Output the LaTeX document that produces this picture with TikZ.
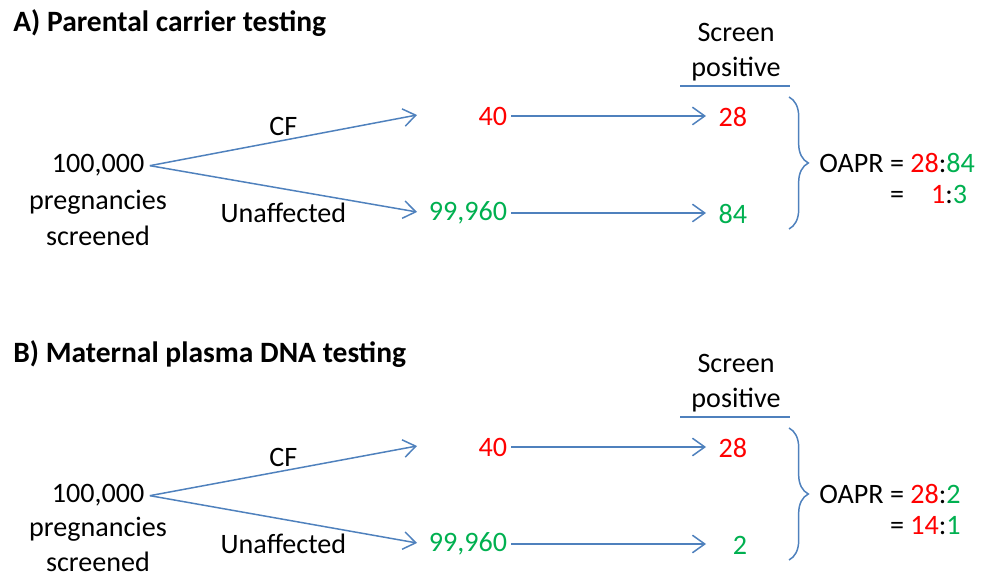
\documentclass[tikz,border=0pt]{standalone}
\usepackage{fontspec}
\setmainfont{Carlito}
\usetikzlibrary{positioning}
\usetikzlibrary {arrows.meta}
\usetikzlibrary{decorations.pathreplacing}
\definecolor{cfred}{HTML}{FF0000}
\definecolor{okgreen}{HTML}{00B050}
\definecolor{lineblue}{HTML}{4F81BD}
\renewcommand{\arraystretch}{0.86}
\tikzset{branch/.style={draw=lineblue,line width=0.85pt,
-{Straight Barb[length=7pt,width=10pt,line width=0.85pt]}}}
\tikzset{count/.style={inner sep=2pt,anchor=east}}
\tikzset{panel/.style={inner sep=0pt,anchor=base west,font=\fontsize{16.8}{20}\selectfont\bfseries}}
\tikzset{ratio/.style={inner sep=0pt,anchor=west}}
\tikzset{popbox/.style={align=center,inner sep=1pt}}
\tikzset{bracket/.style={draw=lineblue,line width=0.85pt,
decorate,decoration={brace,amplitude=11pt}}}

\begin{document}
\begin{tikzpicture}[x=0.02cm,y=-0.02cm,
    every node/.style={font=\fontsize{16}{20}\selectfont}]
        \useasboundingbox (0,0) rectangle (985,577);

        % A) parental carrier testing
        \node[panel] (titleA) at (13,32) {A) Parental carrier testing};
        \node[align=center] (headA) at (736,52) {Screen\\positive};
        \coordinate (lineAl) at (680,86);
        \coordinate (lineAr) at (790,86);
        \draw[lineblue,line width=0.85pt] (lineAl) -- (lineAr);

        \node[inner sep=3pt,anchor=base] (numA) at (98,173) {100,000};
        \node[popbox] (popA) [below=3.6pt of numA] {pregnancies\\screened};

        \coordinate (cftipA) at (417,115);
        \coordinate (untipA) at (417,212);
        \draw[branch] (numA.east) -- node[above=-1.3pt] (cflabA) {CF} (cftipA);
        \draw[branch] (numA.east) -- node[below=4.5pt] (unlabA) {Unaffected} (untipA);

        \node[count,text=cfred] (cfA) at (511,116) {40};
        \node[count,text=okgreen] (unA) at (511,213) {99,960};
        \coordinate (cfendA) at (706,116);
        \coordinate (unendA) at (706,213);
        \draw[branch] (cfA) -- (cfendA);
        \draw[branch] (unA) -- (unendA);
        \node[count,text=cfred] (cfposA) at (751,117) {28};
        \node[count,text=okgreen] (unposA) at (751,214) {84};

        \coordinate (braceAt) at (789,97);
        \coordinate (braceAb) at (789,229);
        \draw[bracket] (braceAt) -- (braceAb);
        \node[ratio] (oaprA) at (819,182) {\begin{tabular}{@{}r@{ }l@{}}
            OAPR = & \textcolor{cfred}{28}:\textcolor{okgreen}{84}\\
            = & \hphantom{2} \textcolor{cfred}{1}:\textcolor{okgreen}{3}
        \end{tabular}};

        % B) maternal plasma DNA testing
        \node[panel] (titleB) at (13,363) {B) Maternal plasma DNA testing};
        \node[align=center] (headB) at (736,383) {Screen\\positive};
        \coordinate (lineBl) at (680,417);
        \coordinate (lineBr) at (790,417);
        \draw[lineblue,line width=0.85pt] (lineBl) -- (lineBr);

        \node[inner sep=3pt,anchor=base] (numB) at (98,503) {100,000};
        \node[popbox] (popB) [below=1.8pt of numB] {pregnancies\\screened};

        \coordinate (cftipB) at (417,446);
        \coordinate (untipB) at (417,543);
        \draw[branch] (numB.east) -- node[above=-1.3pt] (cflabB) {CF} (cftipB);
        \draw[branch] (numB.east) -- node[below=4.5pt] (unlabB) {Unaffected} (untipB);

        \node[count,text=cfred] (cfB) at (511,447) {40};
        \node[count,text=okgreen] (unB) at (511,544) {99,960};
        \coordinate (cfendB) at (706,447);
        \coordinate (unendB) at (706,544);
        \draw[branch] (cfB) -- (cfendB);
        \draw[branch] (unB) -- (unendB);
        \node[count,text=cfred] (cfposB) at (751,448) {28};
        \node[count,text=okgreen] (unposB) at (751,545) {2};

        \coordinate (braceBt) at (789,428);
        \coordinate (braceBb) at (789,560);
        \draw[bracket] (braceBt) -- (braceBb);
        \node[ratio] (oaprB) at (819,513) {\begin{tabular}{@{}r@{ }l@{}}
            OAPR = & \textcolor{cfred}{28}:\textcolor{okgreen}{2}\\
            = & \textcolor{cfred}{14}:\textcolor{okgreen}{1}
        \end{tabular}};

    \end{tikzpicture}
\end{document}
